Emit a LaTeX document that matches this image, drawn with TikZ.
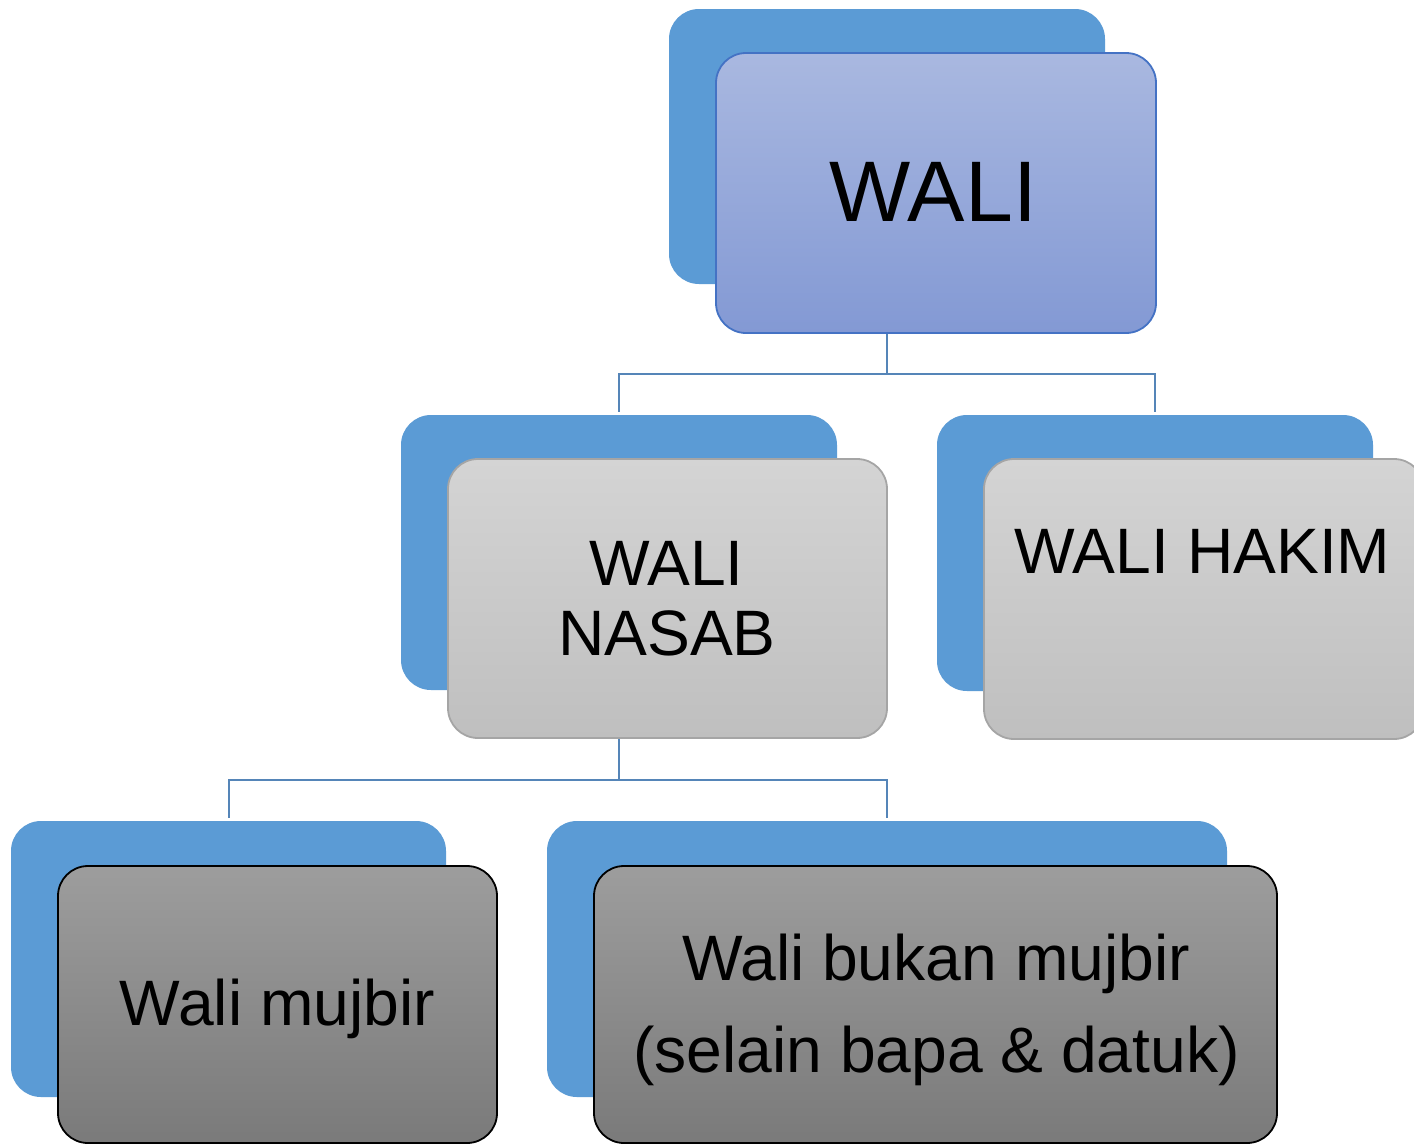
\documentclass[tikz,border=0pt]{standalone}
\usepackage{fontspec}
\setmainfont{Liberation Sans}
\usetikzlibrary{calc}
\definecolor{backblue}{HTML}{5B9BD5}
\definecolor{walitop}{HTML}{A9B8E0}
\definecolor{walibot}{HTML}{8399D4}
\definecolor{waliedge}{HTML}{4472C4}
\definecolor{graytop}{HTML}{D4D4D4}
\definecolor{graybot}{HTML}{BFBFBF}
\definecolor{grayedge}{HTML}{A5A5A5}
\definecolor{darktop}{HTML}{9D9D9D}
\definecolor{darkbot}{HTML}{7A7A7A}
\definecolor{connblue}{HTML}{5585B8}
\begin{document}
\begin{tikzpicture}[x=1pt,y=-1pt,
  backbox/.style={rectangle, rounded corners=30pt, fill=backblue, draw=none, inner sep=0pt},
  walibox/.style={rectangle, rounded corners=30pt, top color=walitop, bottom color=walibot, draw=waliedge, line width=1.8pt, inner sep=0pt},
  graybox/.style={rectangle, rounded corners=30pt, top color=graytop, bottom color=graybot, draw=grayedge, line width=1.8pt, inner sep=0pt},
  darkbox/.style={rectangle, rounded corners=30pt, top color=darktop, bottom color=darkbot, draw=black, line width=1.8pt, inner sep=0pt},
  conn/.style={draw=connblue, line width=2pt},
  bigtxt/.style={anchor=base, inner sep=0pt, font=\fontsize{86}{96}\selectfont},
  midtxt/.style={anchor=base, inner sep=0pt, font=\fontsize{64.2}{72}\selectfont}
]
\clip (0,0) rectangle (1414,1144);
\fill[white] (0,0) rectangle (1414,1144);

% top
\node[backbox, minimum width=436pt, minimum height=275pt] (waliB) at (887,146.5) {};
\node[walibox, minimum width=440pt, minimum height=280pt] (waliF) at (936,193) {};
\node[bigtxt] (waliT) at (933.5,221) {WALI};

% middle
\node[backbox, minimum width=436pt, minimum height=275pt] (nasabB) at (619,552.5) {};
\node[graybox, minimum width=439pt, minimum height=279pt] (nasabF) at (667.5,598.5) {};
\node[midtxt] (nasabT1) at (666.5,585) {WALI};
\node[midtxt] (nasabT2) at (667,655) {NASAB};

\node[backbox, minimum width=436pt, minimum height=276pt] (hakimB) at (1155,553) {};
\node[graybox, minimum width=440pt, minimum height=280pt] (hakimF) at (1204,599) {};
\node[midtxt] (hakimT) at (1202.5,573) {WALI HAKIM};

% bottom
\node[backbox, minimum width=435pt, minimum height=276pt] (mujbirB) at (228.5,959) {};
\node[darkbox, minimum width=439pt, minimum height=277pt] (mujbirF) at (277.5,1004.5) {};
\node[midtxt] (mujbirT) at (277.5,1025) {Wali mujbir};

\node[backbox, minimum width=680pt, minimum height=276pt] (bukanB) at (887,959) {};
\node[darkbox, minimum width=683pt, minimum height=277pt] (bukanF) at (935.5,1004.5) {};
\node[midtxt] (bukanT1) at (936,980) {Wali bukan mujbir};
\node[midtxt] (bukanT2) at (936.5,1072) {(selain bapa \& datuk)};

% connectors
\coordinate (j1) at ($(waliF.south -| waliB.south)+(0,40)$);
\draw[conn] (waliF.south -| waliB.south) -- (j1) -| ($(nasabB.north)+(0,-3)$);
\draw[conn] (j1) -| ($(hakimB.north)+(0,-3)$);
\coordinate (j2) at ($(nasabF.south -| nasabB.south)+(0,41)$);
\draw[conn] (nasabF.south -| nasabB.south) -- (j2) -| ($(mujbirB.north)+(0,-3)$);
\draw[conn] (j2) -| ($(bukanB.north)+(0,-3)$);
\end{tikzpicture}
\end{document}
